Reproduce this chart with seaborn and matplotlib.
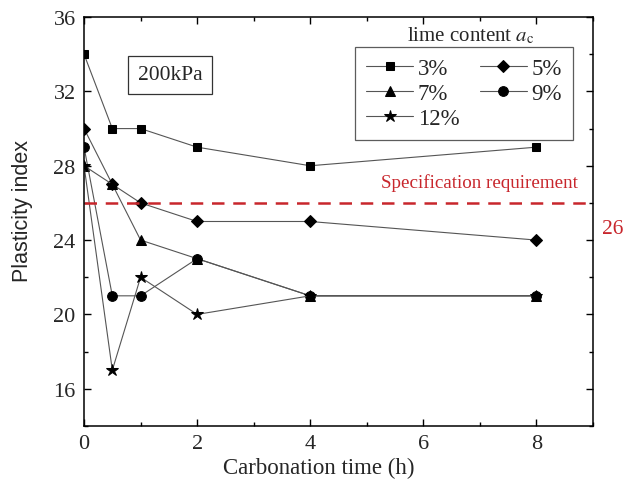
import pandas as pd
import matplotlib
matplotlib.use('Agg')
import matplotlib.pyplot as plt
import seaborn as sns
from matplotlib.ticker import MultipleLocator

time_h = [0, 0.5, 1, 2, 4, 8]
pi_3 = [34, 30, 30, 29, 28, 29]
pi_5 = [30, 27, 26, 25, 25, 24]
pi_7 = [28, 27, 24, 23, 21, 21]
pi_9 = [29, 21, 21, 23, 21, 21]
pi_12 = [28, 17, 22, 20, 21, 21]
labels = ['3%', '5%', '7%', '9%', '12%']
markers = ['s', 'D', '^', 'o', '*']
spec_value = 26

sns.set_style('ticks')
plt.rcParams['font.family'] = ['Liberation Serif', 'DejaVu Serif']
plt.rcParams['mathtext.fontset'] = 'stix'

fig, ax = plt.subplots(figsize=(6.32, 4.89), dpi=100)
fig.subplots_adjust(left=0.133, right=0.938, top=0.963, bottom=0.127)

series = [pi_3, pi_5, pi_7, pi_9, pi_12]
sizes = {'s': 6.2, 'D': 5.8, '^': 7, 'o': 7, '*': 9}
for vals, lab, mk in zip(series, labels, markers):
    df = pd.DataFrame({'t': time_h, 'pi': vals})
    sns.lineplot(data=df, x='t', y='pi', ax=ax, color='#555555', lw=0.8,
                 marker=mk, markersize=sizes[mk], markerfacecolor='black',
                 markeredgecolor='black', label=lab)

red = '#c8262c'
ax.axhline(spec_value, color=red, ls=(0, (5, 3.5)), lw=1.8)
ax.text(8.73, 27.1, 'Specification requirement', color=red, fontsize=13.7,
        ha='right', va='center')
ax.text(9.16, 24.6, '26', color=red, fontsize=15.5, ha='left', va='center')
ax.text(1.52, 32.9, '200kPa', fontsize=15.5, ha='center', va='center',
        bbox=dict(boxstyle='square,pad=0.45', fc='white', ec='#333333', lw=0.9))

h, l = ax.get_legend_handles_labels()
order = [0, 2, 4, 1, 3]
leg = ax.legend([h[i] for i in order], [l[i] for i in order], ncol=2,
                loc='upper right', bbox_to_anchor=(0.962, 0.927),
                borderaxespad=0, fontsize=16.5, frameon=True, fancybox=False,
                edgecolor='#333333', handlelength=2.05, handletextpad=0.2,
                columnspacing=0.9, borderpad=0.5, labelspacing=0.16)
leg.get_frame().set_linewidth(0.9)
ax.text(6.84, 35.05, 'lime content $a_{\\mathrm{c}}$', fontsize=15,
        ha='center', va='center')

ax.set_xlim(0, 9)
ax.set_ylim(14, 36)
ax.xaxis.set_major_locator(MultipleLocator(2))
ax.xaxis.set_minor_locator(MultipleLocator(1))
ax.yaxis.set_major_locator(MultipleLocator(4))
ax.yaxis.set_minor_locator(MultipleLocator(2))
ax.set_yticks([16, 20, 24, 28, 32, 36])
ax.tick_params(which='both', direction='in', top=True, right=True,
               labelsize=16, width=1.0, color='black', pad=6)
ax.tick_params(which='major', length=5)
ax.tick_params(which='minor', length=3)
for s in ax.spines.values():
    s.set_linewidth(1.1)
    s.set_color('black')
ax.set_xlabel('Carbonation time (h)', fontsize=16.5)
ax.set_ylabel('Plasticity index', fontsize=15.5, family='Liberation Sans')
ax.xaxis.set_label_coords(0.462, -0.076)
ax.yaxis.set_label_coords(-0.1, 0.529)

fig.savefig('out.png', dpi=100)
